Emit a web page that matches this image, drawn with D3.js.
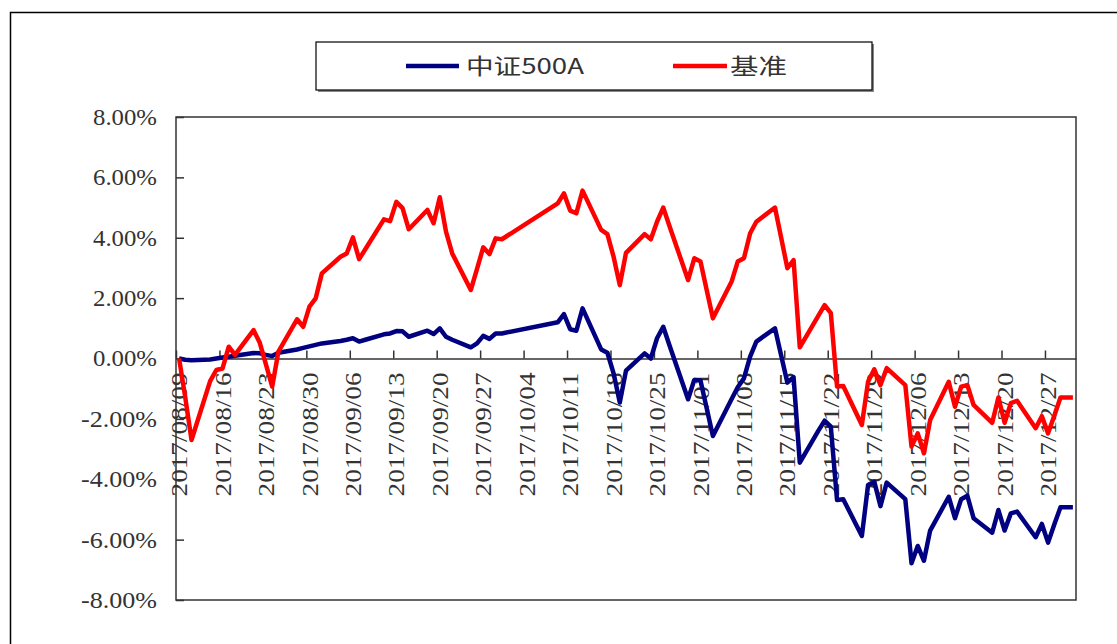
<!DOCTYPE html>
<html><head><meta charset="utf-8">
<script src="https://cdn.jsdelivr.net/npm/d3@7"></script>
<style>body{margin:0;background:#fff;overflow:hidden}</style>
</head><body><svg id="c" width="1117" height="644"></svg>
<script>
// ---- data ----
const year = 2017;
const dates = ["08-09","08-10","08-11","08-14","08-15","08-16","08-17","08-18","08-21","08-22","08-23","08-24","08-25","08-28","08-29","08-30","08-31",
"09-01","09-04","09-05","09-06","09-07","09-08","09-11","09-12","09-13","09-14","09-15","09-18","09-19","09-20","09-21","09-22","09-25","09-26","09-27","09-28","09-29","09-30",
"10-09","10-10","10-11","10-12","10-13","10-16","10-17","10-18","10-19","10-20","10-23","10-24","10-25","10-26","10-27","10-30","10-31",
"11-01","11-02","11-03","11-06","11-07","11-08","11-09","11-10","11-13","11-14","11-15","11-16","11-17","11-20","11-21","11-22","11-23","11-24","11-27","11-28","11-29","11-30",
"12-01","12-04","12-05","12-06","12-07","12-08","12-11","12-12","12-13","12-14","12-15","12-18","12-19","12-20","12-21","12-22","12-25","12-26","12-27","12-28","12-29","12-31"];
const fundValues = [0.00,-0.04,-0.06,-0.03,0.00,0.03,0.06,0.09,0.18,0.17,0.12,0.08,0.19,0.30,0.35,0.40,0.45,
0.50,0.58,0.62,0.67,0.56,0.62,0.80,0.83,0.91,0.90,0.72,0.92,0.81,1.00,0.72,0.62,0.37,0.50,0.75,0.65,0.83,0.83,
1.20,1.47,0.97,0.92,1.66,0.30,0.19,-0.49,-1.46,-0.40,0.17,0.00,0.67,1.05,0.44,-1.35,-0.71,
-0.73,-1.65,-2.57,-1.35,-0.95,-0.66,0.06,0.56,1.00,0.10,-0.80,-0.62,-3.45,-2.39,-2.06,-2.26,-4.69,-4.66,-5.88,-4.19,-4.08,-4.89,
-4.11,-4.66,-6.78,-6.21,-6.70,-5.70,-4.58,-5.29,-4.66,-4.55,-5.29,-5.77,-5.02,-5.70,-5.13,-5.07,-5.92,-5.48,-6.10,-5.50,-4.93,-4.93];
const benchValues = [0.00,-1.30,-2.70,-0.75,-0.38,-0.33,0.39,0.12,0.94,0.52,-0.20,-0.93,0.23,1.30,1.05,1.72,1.99,
2.82,3.37,3.48,4.01,3.29,3.62,4.61,4.55,5.19,4.98,4.28,4.92,4.48,5.34,4.20,3.48,2.27,2.97,3.68,3.46,3.98,3.95,
5.14,5.47,4.90,4.81,5.56,4.26,4.12,3.37,2.43,3.50,4.12,3.95,4.53,5.00,4.39,2.60,3.32,
3.21,2.27,1.33,2.54,3.21,3.32,4.15,4.53,5.00,4.00,2.99,3.26,0.37,1.42,1.77,1.50,-0.93,-0.91,-2.20,-0.77,-0.36,-0.88,
-0.32,-0.88,-2.92,-2.48,-3.14,-2.04,-0.77,-1.60,-0.93,-0.88,-1.54,-2.13,-1.29,-2.13,-1.48,-1.40,-2.31,-1.91,-2.48,-1.90,-1.29,-1.29];
const seriesNames = ["中证500A", "基准"];
const seriesColors = ["#000080", "#ff0000"];
const yTickValues = [8, 6, 4, 2, 0, -2, -4, -6, -8];
const xTickLabels = ["2017/08/09","2017/08/16","2017/08/23","2017/08/30","2017/09/06","2017/09/13","2017/09/20","2017/09/27",
"2017/10/04","2017/10/11","2017/10/18","2017/10/25","2017/11/01","2017/11/08","2017/11/15","2017/11/22","2017/11/29",
"2017/12/06","2017/12/13","2017/12/20","2017/12/27"];
const axisStart = "2017/08/09", axisEnd = "2018/01/01";

// ---- helpers ----
const parseSlash = s => { const [y, m, d] = s.split("/").map(Number); return new Date(y, m - 1, d); };
const parseMD = s => { const [m, d] = s.split("-").map(Number); return new Date(year, m - 1, d); };
const mid = dt => new Date(dt.getFullYear(), dt.getMonth(), dt.getDate(), 12);

const svg = d3.select("#c");
const L = 176, R = 1076, T = 117, B = 600;
const x = d3.scaleTime().domain([parseSlash(axisStart), parseSlash(axisEnd)]).range([L, R]);
const y = d3.scaleLinear().domain([-8, 8]).range([B, T]);
const textColor = "#333";

// outer chart border
svg.append("rect").attr("x", 10.5).attr("y", 12.5).attr("width", 1200).attr("height", 800)
  .attr("fill", "none").attr("stroke", "#000").attr("stroke-width", 1.5);

// legend
svg.append("rect").attr("x", 318).attr("y", 44).attr("width", 556).attr("height", 48).attr("fill", "#888");
svg.append("rect").attr("x", 316).attr("y", 42).attr("width", 556).attr("height", 48)
  .attr("fill", "#fff").attr("stroke", "#000").attr("stroke-width", 1.2);
const legendItems = [
  {name: seriesNames[0], color: seriesColors[0], lx: 406, lw: 53, tx: 466, tl: 118},
  {name: seriesNames[1], color: seriesColors[1], lx: 673, lw: 54, tx: 730, tl: 57}
];
legendItems.forEach(it => {
  svg.append("line").attr("x1", it.lx).attr("x2", it.lx + it.lw).attr("y1", 66).attr("y2", 66)
    .attr("stroke", it.color).attr("stroke-width", 4.5);
  svg.append("text").attr("x", it.tx).attr("y", 66).attr("dy", "0.36em")
    .attr("font-family", "'Noto Sans CJK SC', sans-serif").attr("font-size", 22).attr("fill", textColor)
    .attr("textLength", it.tl).attr("lengthAdjust", "spacingAndGlyphs").text(it.name);
});

// plot border
svg.append("rect").attr("x", L).attr("y", T).attr("width", R - L).attr("height", B - T)
  .attr("fill", "none").attr("stroke", "#333").attr("stroke-width", 1.5);

// y axis
const yAxis = svg.append("g").attr("transform", `translate(${L},0)`)
  .call(d3.axisLeft(y).tickValues(yTickValues).tickSize(-8).tickPadding(19)
    .tickFormat(d => d3.format(".2f")(d).replace("−", "-") + "%"));
yAxis.select(".domain").remove();
yAxis.selectAll(".tick line").attr("stroke", "#333").attr("stroke-width", 1.5);
yAxis.attr("font-family", "'Liberation Serif', serif").attr("font-size", 23);
yAxis.selectAll(".tick text").attr("fill", textColor)
  .attr("textLength", d => d < 0 ? 76 : 64).attr("lengthAdjust", "spacingAndGlyphs");

// x axis at zero
const xTicks = xTickLabels.map(parseSlash);
const xAxis = svg.append("g").attr("transform", `translate(0,${y(0)})`)
  .call(d3.axisTop(x).tickValues(xTicks).tickSize(8).tickSizeOuter(0).tickFormat(""));
xAxis.select(".domain").attr("stroke", "#333").attr("stroke-width", 1.5);
xAxis.selectAll(".tick line").attr("stroke", "#333").attr("stroke-width", 1.5);

svg.append("g").selectAll("text").data(xTickLabels).join("text")
  .attr("transform", d => `translate(${x(mid(parseSlash(d)))},${y(0) + 14}) rotate(-90)`)
  .attr("text-anchor", "end").attr("dy", "0.35em")
  .attr("font-family", "'Liberation Serif', serif").attr("font-size", 23).attr("fill", textColor)
  .attr("textLength", 124).attr("lengthAdjust", "spacingAndGlyphs")
  .text(d => d);

// lines
const dts = dates.map(s => mid(parseMD(s)));
const line = d3.line().x((d, i) => x(dts[i])).y(d => y(d));
[fundValues, benchValues].forEach((vals, k) => {
  svg.append("path").attr("d", line(vals)).attr("fill", "none")
    .attr("stroke", seriesColors[k]).attr("stroke-width", 4.5)
    .attr("stroke-linejoin", "round").attr("stroke-linecap", "butt");
});
</script>
</body></html>
